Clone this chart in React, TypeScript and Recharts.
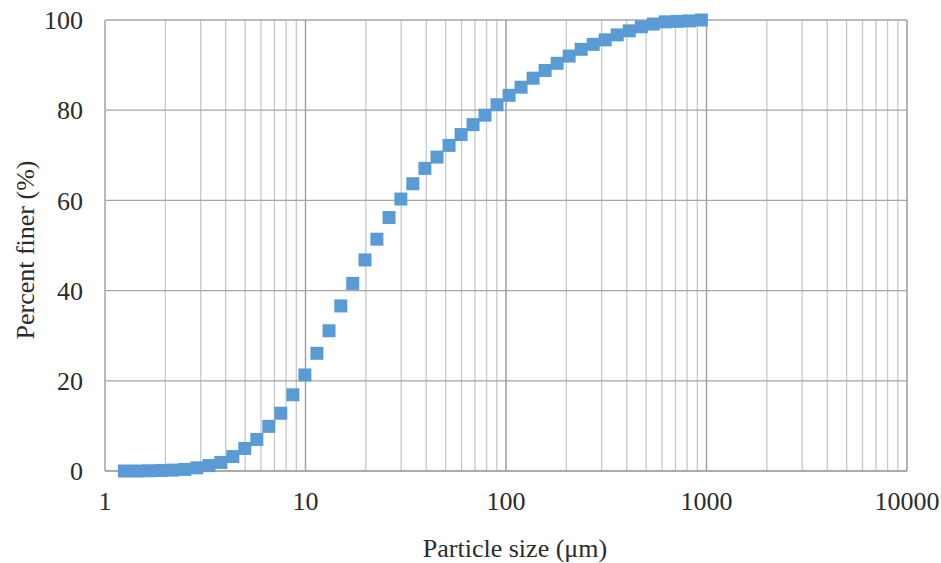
import { ScatterChart, Scatter, XAxis, YAxis, CartesianGrid, ReferenceLine } from "recharts"

// particle size (µm)
const sizes = [
  1.25, 1.44, 1.65, 1.9, 2.18, 2.5, 2.87, 3.3, 3.78, 4.34, 4.98, 5.72, 6.56, 7.53, 8.65, 9.93,
  11.4, 13.1, 15.0, 17.2, 19.8, 22.7, 26.1, 29.9, 34.3, 39.4, 45.3, 52.0, 59.7, 68.5, 78.6, 90.2,
  103.6, 118.9, 136.5, 156.7, 179.9, 206.5, 237.1, 272.2, 312.5, 358.8, 411.9, 472.9, 542.9, 623.2,
  715.5, 821.4, 943.0,
]

// cumulative percent finer
const finer = [
  0.0, 0.0, 0.05, 0.1, 0.2, 0.35, 0.7, 1.2, 1.9, 3.2, 5.0, 7.0, 9.9, 12.8, 16.9, 21.3,
  26.1, 31.1, 36.6, 41.6, 46.8, 51.4, 56.2, 60.3, 63.7, 67.1, 69.6, 72.2, 74.6, 76.8, 78.9, 81.2,
  83.3, 85.1, 87.1, 88.8, 90.4, 92.0, 93.5, 94.6, 95.6, 96.7, 97.6, 98.5, 99.1, 99.6,
  99.7, 99.8, 100,
]

const xMajor = [1, 10, 100, 1000, 10000]
const xMinor = [
  2, 3, 4, 5, 6, 7, 8, 9,
  20, 30, 40, 50, 60, 70, 80, 90,
  200, 300, 400, 500, 600, 700, 800, 900,
  2000, 3000, 4000, 5000, 6000, 7000, 8000, 9000,
]
const yTicks = [0, 20, 40, 60, 80, 100]

const data = sizes.map((x, i) => ({ x, y: finer[i] }))
const xTicks = [...xMajor, ...xMinor].sort((a, b) => a - b)

const font = "Liberation Serif, Times New Roman, serif"
const textColor = "#2b2b2b"
const FS = 26
const MARK = 13

function SquareMark(props: any) {
  const { cx, cy } = props
  if (cx == null || cy == null) return null
  return <rect x={cx - MARK / 2} y={cy - MARK / 2} width={MARK} height={MARK} fill="#5B9BD5" />
}

export default function App() {
  return (
    <div style={{ position: "absolute", left: 0, top: 0, width: 941, height: 563, background: "#fff", fontFamily: font }}>
      <ScatterChart width={941} height={563} margin={{ top: 20, right: 34, bottom: 0, left: 0 }}>
        <CartesianGrid stroke="#C8C8C8" strokeWidth={1.3} horizontal={false} />
        <CartesianGrid stroke="#A6A6A6" strokeWidth={1.3} vertical={false} />
        {xMajor.map((v) => (
          <ReferenceLine key={v} x={v} stroke="#A0A0A0" strokeWidth={1.3} />
        ))}
        <XAxis
          type="number"
          dataKey="x"
          scale="log"
          domain={[1, 10000]}
          ticks={xTicks}
          allowDataOverflow
          height={92}
          tickLine={false}
          tickSize={0}
          tickMargin={21}
          axisLine={{ stroke: "#A6A6A6", strokeWidth: 1.3 }}
          tick={{ fill: textColor, fontSize: FS, style: { fontFamily: font } }}
          tickFormatter={(v: number) => (xMajor.includes(v) ? String(v) : "")}
          interval={0}
          label={{
            content: () => (
              <text x={515} y={557} textAnchor="middle" fill={textColor} fontSize={FS} style={{ fontFamily: font }}>
                Particle size (μm)
              </text>
            ),
          }}
        />
        <YAxis
          type="number"
          dataKey="y"
          domain={[0, 100]}
          ticks={yTicks}
          width={105}
          tickLine={false}
          tickSize={0}
          tickMargin={22}
          axisLine={{ stroke: "#BFBFBF", strokeWidth: 1.3 }}
          tick={{ fill: textColor, fontSize: FS, style: { fontFamily: font } }}
          label={{
            content: () => (
              <text
                x={25}
                y={250}
                transform="rotate(-90 25 250)"
                textAnchor="middle"
                dominantBaseline="central"
                fill={textColor}
                fontSize={FS}
                style={{ fontFamily: font }}
              >
                Percent finer (%)
              </text>
            ),
          }}
        />
        <Scatter data={data} fill="#5B9BD5" shape={SquareMark} isAnimationActive={false} />
      </ScatterChart>
    </div>
  )
}
